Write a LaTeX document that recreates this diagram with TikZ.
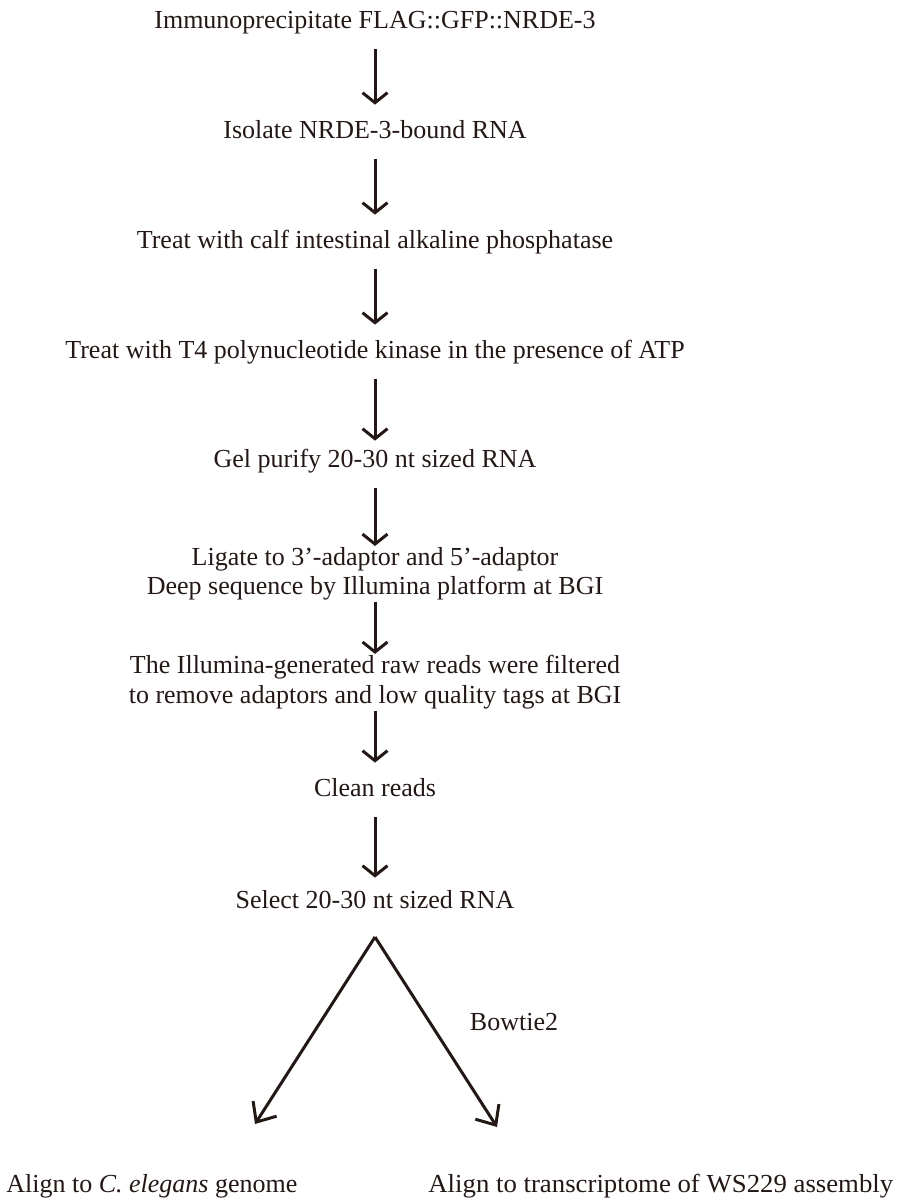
\documentclass[tikz,border=0pt]{standalone}
\usepackage{fontspec}
\setmainfont{Liberation Serif}
\usetikzlibrary{arrows.meta}

\definecolor{ink}{RGB}{35,24,21}

\tikzset{
	stepnode/.style = {inner sep = 0pt, text height = 9pt, text depth = 3pt, font = \fontsize{13}{14.75}\selectfont, align = center, text = ink},
	endnode/.style = {inner sep = 0pt, font = \fontsize{13}{15}\selectfont, text = ink},
	down/.style = {ink, line width = 1.5pt, -{Straight Barb[length = 5pt, width = 12.5pt, line width = 1.5pt]}, shorten < = 7.5pt, shorten > = 7.5pt},
	split/.style = {ink, line width = 1.5pt, -{Straight Barb[length = 8pt, width = 14pt, line width = 1.5pt]}}
}

\begin{document}
\begin{tikzpicture}[x = 0.5pt, y = -0.5pt]
	\useasboundingbox (0, 0) rectangle (904, 1200);
	
	\node[stepnode] (ip) at (375, 22) {Immunoprecipitate FLAG::GFP::NRDE-3};
	\node[stepnode] (isolate) at (375, 132) {Isolate NRDE-3-bound RNA};
	\node[stepnode] (cip) at (375, 242) {Treat with calf intestinal alkaline phosphatase};
	\node[stepnode] (pnk) at (375, 352) {Treat with T4 polynucleotide kinase in the presence of ATP};
	\node[stepnode] (gel) at (375, 461) {Gel purify 20-30 nt sized RNA};
	\node[stepnode, text height = , text depth = ] (ligate) at (375, 574) {Ligate to 3'-adaptor and 5'-adaptor\\Deep sequence by Illumina platform at BGI};
	\node[stepnode, text height = , text depth = ] (filter) at (375, 682) {The Illumina-generated raw reads were filtered\\to remove adaptors and low quality tags at BGI};
	\node[stepnode] (clean) at (375, 790) {Clean reads};
	\node[stepnode] (select) at (375, 902) {Select 20-30 nt sized RNA};
	
	\draw[down] (ip) -- (isolate);
	\draw[down] (isolate) -- (cip);
	\draw[down] (cip) -- (pnk);
	\draw[down, shorten > = 4pt] (pnk) -- (gel);
	\draw[down, shorten > = 0.5pt] (gel) -- (ligate);
	\draw[down, shorten < = 0.5pt, shorten > = 0.5pt] (ligate) -- (filter);
	\draw[down, shorten < = 1pt] (filter) -- (clean);
	\draw[down, shorten > = 6pt] (clean) -- (select);
	
	% split into the two alignments
	\coordinate (apex) at (375, 937);
	\coordinate (lefttip) at (255, 1124);
	\coordinate (righttip) at (497, 1127);
	\draw[split] (apex) -- (lefttip);
	\draw[split] (apex) -- (righttip);
	\node[endnode] (bowtie) at (514, 1022) {Bowtie2};
	
	\node[endnode, anchor = west] (genome) at (6, 1186) {Align to \textit{C. elegans} genome};
	\node[endnode, anchor = west] (transcriptome) at (428, 1186) {\scalebox{1.03}[1]{Align to transcriptome of WS229 assembly}};
\end{tikzpicture}
\end{document}
